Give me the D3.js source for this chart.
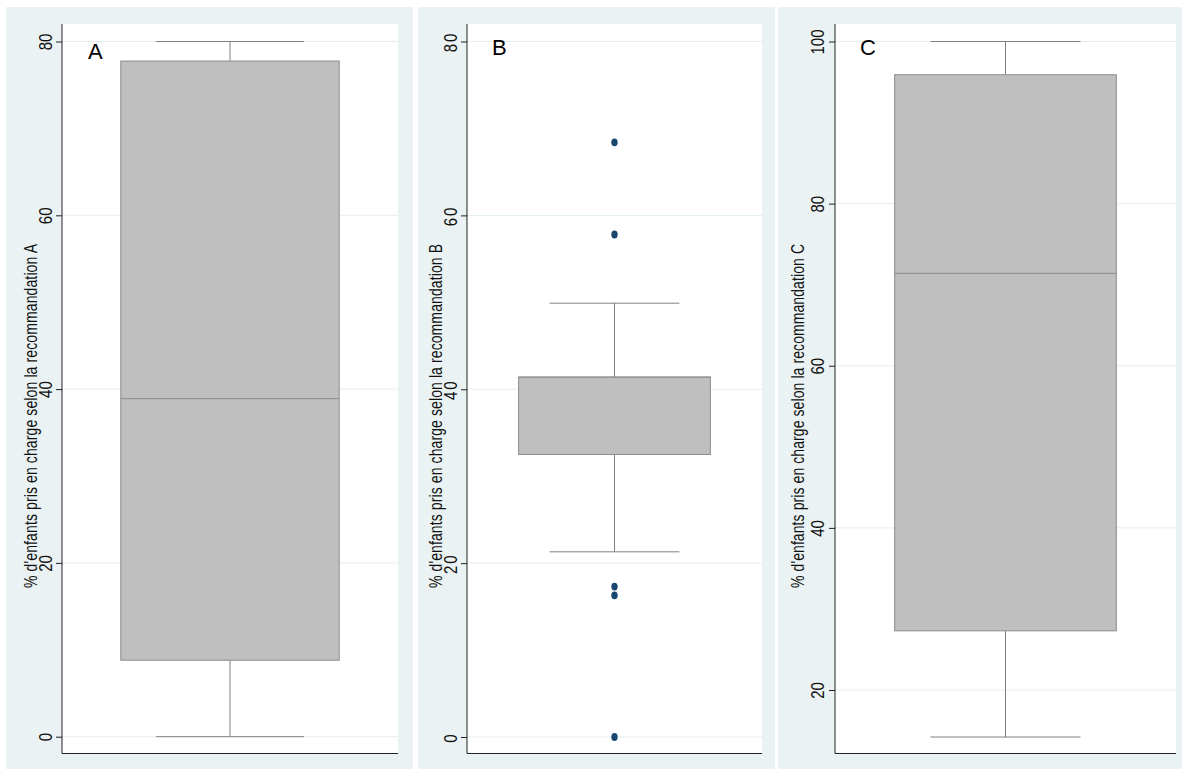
<!DOCTYPE html>
<html><head><meta charset="utf-8">
<script src="https://cdn.jsdelivr.net/npm/d3@7"></script>
<style>
html,body{margin:0;padding:0;background:#fff;}
svg{display:block;}
text{font-family:"Liberation Sans", Arial, sans-serif;}
</style></head>
<body>
<svg id="chart" width="1182" height="769"></svg>
<script>
// ---- data ----
const panelLabels = ["A", "B", "C"];
const axisTitles = [
  "% d'enfants pris en charge selon la recommandation A",
  "% d'enfants pris en charge selon la recommandation B",
  "% d'enfants pris en charge selon la recommandation C"
];
const whiskerLow  = [0,     21.3, 14.2];
const q1          = [8.8,   32.5, 27.3];
const median      = [38.9,  41.4, 71.4];
const q3          = [77.75, 41.4, 95.9];
const whiskerHigh = [80,    49.9, 100];
const outliers    = [[], [68.4, 57.8, 17.3, 16.3, 0], []];
const ticksA = [0, 20, 40, 60, 80];
const ticksB = [0, 20, 40, 60, 80];
const ticksC = [20, 40, 60, 80, 100];
const tickSets = [ticksA, ticksB, ticksC];

// ---- layout ----
const layout = [
  {bg:[6,7,413,769],   plot:[62,24,398,753.5],  yr:[736.7,41.5], tickX:52,  titleX:37,  letter:[88,59],  ls:0},
  {bg:[418,7,775,769], plot:[467,24,762,753.5], yr:[737,41.5],   tickX:457, titleX:442, letter:[492,55], ls:2},
  {bg:[778,7,1182,769],plot:[835,24,1176,753.5],yr:[690,41.5],   tickX:824, titleX:804, letter:[860,55], ls:0}
];

const svg = d3.select("#chart");

panelLabels.forEach((lab, i) => {
  const L = layout[i];
  const ticks = tickSets[i];
  const g = svg.append("g");
  g.append("rect").attr("x", L.bg[0]).attr("y", L.bg[1])
    .attr("width", L.bg[2]-L.bg[0]).attr("height", L.bg[3]-L.bg[1]).attr("fill", "#eaf2f3");
  const [px0, py0, px1, py1] = L.plot;
  g.append("rect").attr("x", px0).attr("y", py0).attr("width", px1-px0).attr("height", py1-py0).attr("fill", "#fff");

  const y = d3.scaleLinear().domain([ticks[0], ticks[ticks.length-1]]).range(L.yr);

  // grid
  g.selectAll(".grid").data(ticks).enter().append("line")
    .attr("x1", px0).attr("x2", px1)
    .attr("y1", d => y(d)).attr("y2", d => y(d))
    .attr("stroke", "#e4eeef").attr("stroke-width", 1);

  const cx = px0 + (px1 - px0) * 0.5;
  const boxW = (px1 - px0) * 0.65;
  const capW = (px1 - px0) * 0.44;

  // whiskers
  g.append("line").attr("x1", cx).attr("x2", cx).attr("y1", y(whiskerHigh[i])).attr("y2", y(q3[i]))
    .attr("stroke", "#808080").attr("stroke-width", 1);
  g.append("line").attr("x1", cx).attr("x2", cx).attr("y1", y(q1[i])).attr("y2", y(whiskerLow[i]))
    .attr("stroke", "#808080").attr("stroke-width", 1);
  [whiskerHigh[i], whiskerLow[i]].forEach(v => {
    g.append("line").attr("x1", cx - capW/2).attr("x2", cx + capW/2).attr("y1", y(v)).attr("y2", y(v))
      .attr("stroke", "#808080").attr("stroke-width", 1);
  });
  // box
  g.append("rect").attr("x", cx - boxW/2).attr("y", y(q3[i]))
    .attr("width", boxW).attr("height", y(q1[i]) - y(q3[i]))
    .attr("fill", "#bfbfbf").attr("stroke", "#8c8c8c").attr("stroke-width", 1);
  g.append("line").attr("x1", cx - boxW/2).attr("x2", cx + boxW/2).attr("y1", y(median[i])).attr("y2", y(median[i]))
    .attr("stroke", "#8c8c8c").attr("stroke-width", 1);

  // outliers
  g.selectAll(".out").data(outliers[i]).enter().append("ellipse")
    .attr("cx", cx).attr("cy", d => y(d)).attr("rx", 3.2).attr("ry", 3.9)
    .attr("fill", "#1a476f");

  // y axis
  const ax = g.append("g").attr("transform", `translate(${px0},0)`)
    .call(d3.axisLeft(y).tickValues(ticks).tickSize(6).tickPadding(0).tickFormat(d3.format("d")));
  ax.select(".domain").remove();
  ax.selectAll(".tick line").attr("stroke", "#222");
  ax.selectAll(".tick text").remove();
  ax.selectAll(".tick").append("text")
    .attr("transform", `translate(${L.tickX - px0},0) rotate(-90) scale(1,1.25)`)
    .attr("text-anchor", "middle").attr("fill", "#111")
    .style("font-size", "15px").style("letter-spacing", L.ls + "px")
    .text(d => d);

  // axis lines
  g.append("line").attr("x1", px0).attr("x2", px0).attr("y1", py0).attr("y2", py1).attr("stroke", "#222");
  g.append("line").attr("x1", px0).attr("x2", px1).attr("y1", py1).attr("y2", py1).attr("stroke", "#222");

  // title
  g.append("text")
    .attr("transform", `translate(${L.titleX},${(588+244)/2}) rotate(-90) scale(1,1.3)`)
    .attr("text-anchor", "middle").attr("fill", "#111")
    .attr("textLength", 344).attr("lengthAdjust", "spacing")
    .style("font-size", "14px")
    .text(axisTitles[i]);

  // panel letter
  g.append("text").attr("x", L.letter[0]).attr("y", L.letter[1])
    .style("font-size", "22px").attr("fill", "#000").text(lab);
});
</script>
</body></html>
